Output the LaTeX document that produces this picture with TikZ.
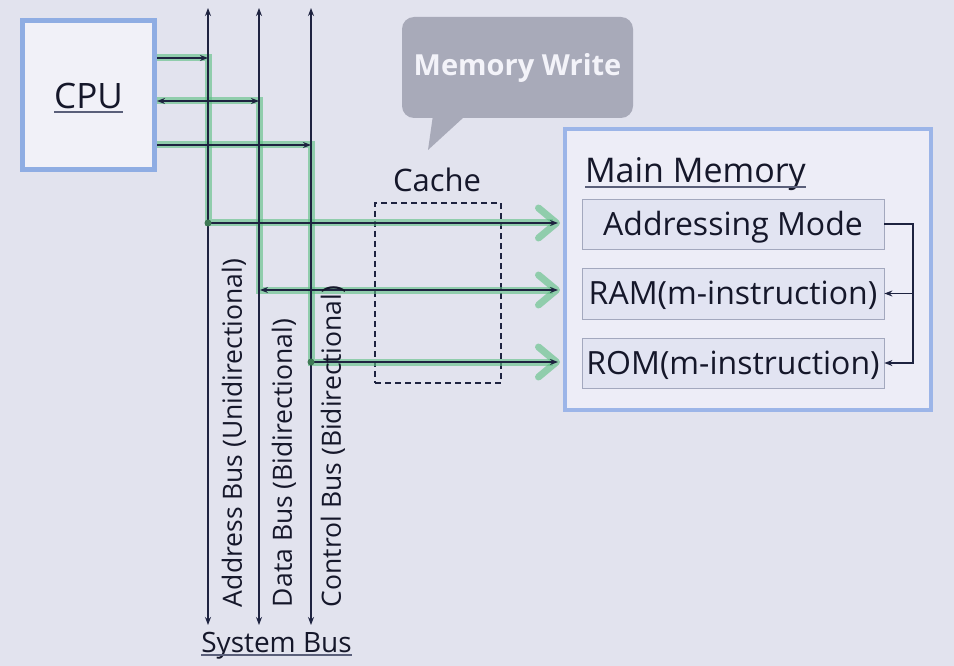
\documentclass[tikz,border=0pt]{standalone}
\usepackage{fontspec}
\setmainfont{Open Sans}
\usetikzlibrary{arrows.meta}
\definecolor{bg}{HTML}{E2E3EE}
\definecolor{linec}{HTML}{1E2340}
\definecolor{hlg}{HTML}{5FC084}
\definecolor{dotc}{HTML}{3E7A55}
\definecolor{cpub}{HTML}{8FADE3}
\definecolor{cpuf}{HTML}{F1F1F8}
\definecolor{mmb}{HTML}{9CB5E8}
\definecolor{mmf}{HTML}{EDEDF7}
\definecolor{inf}{HTML}{E2E4F2}
\definecolor{inb}{HTML}{A3A8BE}
\definecolor{callf}{HTML}{A8AAB9}
\definecolor{callt}{HTML}{F3F3F9}
\definecolor{txt}{HTML}{15172A}
\definecolor{ulc}{HTML}{5A5F7A}
\newcommand{\fs}[1]{\fontsize{#1}{#1}\selectfont}
\tikzset{
  lbl/.style={inner sep=0pt, outer sep=0pt, text=txt},
  cpubox/.style={draw=cpub, fill=cpuf, line width=5pt},
  mmbox/.style={draw=mmb, fill=mmf, line width=4pt},
  inbox/.style={draw=inb, fill=inf, line width=0.8pt, minimum width=302, minimum height=50,
    font=\fs{32}, text=txt, text height=22.8pt, text depth=0pt, inner sep=0pt},
  cachebox/.style={draw=linec, line width=1.5pt, dash pattern=on 6pt off 4pt, minimum width=126, minimum height=180},
  callbox/.style={fill=callf, rounded corners=12pt, minimum width=231, minimum height=101, text=callt, inner sep=0pt},
  bus/.style={draw=linec, line width=1.4pt, {Stealth[length=8pt,width=6pt]}-{Stealth[length=8pt,width=6pt]}},
  hl/.style={draw=hlg, line width=7pt, opacity=0.62},
  hlarrow/.style={hl, -{Straight Barb[length=18pt,width=30pt,round]}, shorten >=3pt},
  dk/.style={draw=linec, line width=1.4pt},
  tip/.style={-{Stealth[length=8pt,width=6pt]}},
  bitip/.style={{Stealth[length=8pt,width=6pt]}-{Stealth[length=8pt,width=6pt]}},
  conn/.style={draw=linec, line width=1.2pt},
  ul/.style={draw=ulc, line width=1.6pt},
  buslbl/.style={lbl, rotate=90, anchor=west, font=\fs{26.5}},
}
\begin{document}
\begin{tikzpicture}[x=1pt,y=-1pt]
\fill[bg] (0,0) rectangle (954,666);
\useasboundingbox (0,0) rectangle (954,666);

% callout
\node[callbox] (call) at (517.5,67.5) {\fs{29}\bfseries Memory Write};
\coordinate (tipc) at (428,150);
\fill[callf] ([xshift=-84.5pt,yshift=3pt]call.south) -- (tipc) -- ([xshift=-51.5pt,yshift=3pt]call.south) -- cycle;

% CPU
\node[cpubox, minimum width=132, minimum height=149] (cpu) at (88.5,95) {};
\node[lbl, font=\fs{35}, text height=25pt, text depth=0pt] (cpulbl) at ([yshift=-1.5pt]cpu.center) {CPU};
\draw[ul] ([yshift=-3pt]cpulbl.south west) -- ([yshift=-3pt]cpulbl.south east);

% Main memory
\node[mmbox, minimum width=366, minimum height=281] (mm) at (748,269.5) {};
\node[lbl, anchor=base west, font=\fs{34}] (mmlbl) at (585,183) {Main Memory};
\draw[ul] ([yshift=-4pt]mmlbl.base west) -- ([yshift=-4pt]mmlbl.base east);
\node[inbox] (am) at (733,224) {Addressing Mode};
\node[inbox, minimum height=51] (ram) at (733,293.5) {RAM(m-instruction)};
\node[inbox] (rom) at (733,363) {ROM(m-instruction)};
\coordinate (rx) at (913,0);
\draw[conn, tip] (am.east) -- (am.east -| rx) |- (rom.east);
\draw[conn, tip] (ram.east -| rx) -- (ram.east);

% Cache
\node[cachebox] (cache) at (438,293) {};
\node[lbl, anchor=base, font=\fs{31}] (cachelbl) at (437,192) {Cache};

% bus coordinates
\coordinate (at) at (208,8);  \coordinate (ab) at (208,625);
\coordinate (dt) at (259,8);  \coordinate (db) at (259,625);
\coordinate (ct) at (311,8);  \coordinate (cb) at (311,625);
\coordinate (j1) at (208,58);  \coordinate (k1) at (208,223);
\coordinate (j2) at (259,101); \coordinate (k2) at (259,290);
\coordinate (j3) at (311,145); \coordinate (k3) at (311,362);

% green highlights
\draw[hlarrow] (cpu.east |- j1) -- (j1) -- (k1) -- (mm.west |- k1);
\draw[hlarrow] (cpu.east |- j2) -- (j2) -- (k2) -- (mm.west |- k2);
\draw[hlarrow] (cpu.east |- j3) -- (j3) -- (k3) -- (mm.west |- k3);

% buses
\draw[bus] (at) -- (ab);
\draw[bus] (dt) -- (db);
\draw[bus] (ct) -- (cb);

% arrows
\draw[dk, tip] (cpu.east |- j1) -- (j1);
\draw[dk, bitip] (cpu.east |- j2) -- (j2);
\draw[dk, tip] (cpu.east |- j3) -- (j3);
\draw[dk, tip, shorten >=5pt] (k1) -- (mm.west |- k1);
\draw[dk, bitip, shorten >=5pt, shorten <=1pt] (k2) -- (mm.west |- k2);
\draw[dk, tip, shorten >=5pt] (k3) -- (mm.west |- k3);
\fill[dotc] (k1) circle (3.5);
\fill[dotc] (k3) circle (3.5);

% bus labels
\node[buslbl] (albl) at (234,607) {Address Bus (Unidirectional)};
\node[buslbl] (dlbl) at (284,607) {Data Bus (Bidirectional)};
\node[buslbl] (clbl) at (333,607) {Control Bus (Bidirectional)};
\node[lbl, anchor=base, font=\fs{28}] (sys) at (276.5,652) {System Bus};
\draw[ul] ([yshift=-3pt]sys.base west) -- ([yshift=-3pt]sys.base east);
\end{tikzpicture}
\end{document}
